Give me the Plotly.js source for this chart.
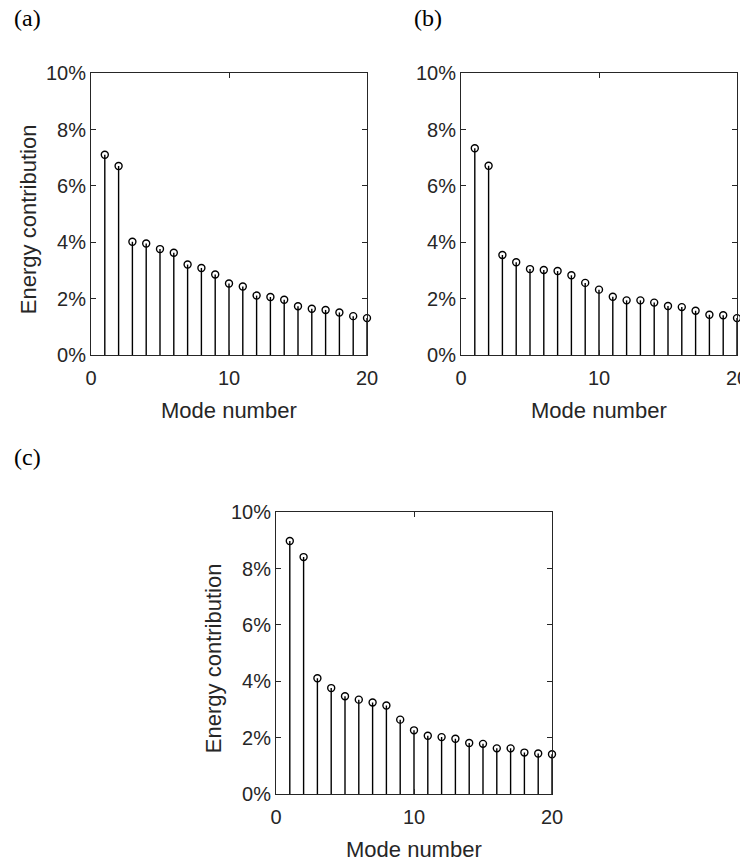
<!DOCTYPE html>
<html>
<head>
<meta charset="utf-8">
<script src="https://cdn.plot.ly/plotly-3.0.1.min.js"></script>
<style>html,body{margin:0;padding:0;background:#fff;}</style>
</head>
<body>
<div id="chart" style="width:740px;height:862px;"></div>
<script>
// Energy contribution (%) of the first 20 modes, three cases
const modeNumber = [1, 2, 3, 4, 5, 6, 7, 8, 9, 10, 11, 12, 13, 14, 15, 16, 17, 18, 19, 20];
const energyA = [7.11, 6.71, 4.02, 3.96, 3.76, 3.63, 3.21, 3.09, 2.86, 2.54, 2.43, 2.11, 2.06, 1.96, 1.73, 1.64, 1.60, 1.51, 1.38, 1.31];
const energyB = [7.34, 6.72, 3.55, 3.29, 3.05, 3.02, 2.98, 2.83, 2.56, 2.32, 2.07, 1.94, 1.94, 1.86, 1.74, 1.70, 1.57, 1.43, 1.41, 1.31];
const energyC = [8.98, 8.41, 4.11, 3.76, 3.47, 3.35, 3.25, 3.14, 2.64, 2.26, 2.07, 2.02, 1.96, 1.81, 1.78, 1.62, 1.62, 1.47, 1.44, 1.41];

const xTickValues = [0, 10, 20];
const xTickLabels = ['0', '10', '20'];
const yTickValues = [0, 2, 4, 6, 8, 10];
const yTickLabels = ['0%', '2%', '4%', '6%', '8%', '10%'];

const panelLabels = ['(a)', '(b)', '(c)'];
const xTitle = 'Mode number';
const yTitle = 'Energy contribution';

const W = 740, H = 862;
const AX = '#262626';
const SANS = '"Liberation Sans", Arial, Helvetica, sans-serif';
const SERIF = '"Liberation Serif", "Times New Roman", serif';

// pixel -> paper helpers (no margins, paper == page)
const px = v => v / W;
const py = v => 1 - v / H;

// plot boxes in pixels: [left, right, top, bottom]
const boxes = [
  [91, 367, 73.3, 355],
  [461, 737, 73.3, 355],
  [276, 552, 512.3, 794]
];

// vertical stem segments from zero up to each value
function stems(values) {
  const xs = [], ys = [];
  modeNumber.forEach((m, i) => {
    xs.push(m, m, null);
    ys.push(0, values[i], null);
  });
  return { xs, ys };
}

const series = [energyA, energyB, energyC];
const traces = [];
const layout = {
  width: W, height: H,
  margin: { l: 0, r: 0, t: 0, b: 0 },
  paper_bgcolor: '#fff',
  plot_bgcolor: '#fff',
  showlegend: false,
  annotations: []
};

series.forEach((vals, k) => {
  const n = k === 0 ? '' : String(k + 1);
  const s = stems(vals);
  traces.push({
    type: 'scatter', mode: 'lines', x: s.xs, y: s.ys,
    xaxis: 'x' + n, yaxis: 'y' + n,
    line: { color: '#000', width: 1.4 },
    cliponaxis: false, hoverinfo: 'skip'
  });
  traces.push({
    type: 'scatter', mode: 'markers', x: modeNumber, y: vals,
    xaxis: 'x' + n, yaxis: 'y' + n,
    marker: { symbol: 'circle-open', size: 7, color: '#000', line: { width: 1.4, color: '#000' } },
    cliponaxis: false
  });

  const [l, r, t, b] = boxes[k];
  layout['xaxis' + n] = {
    domain: [px(l), px(r)], anchor: 'y' + n, range: [0, 20],
    tickmode: 'array', tickvals: xTickValues, ticktext: xTickLabels,
    ticks: 'inside', ticklen: 5, tickwidth: 1, tickcolor: AX,
    showline: true, linecolor: AX, linewidth: 1, mirror: 'ticks',
    showgrid: false, zeroline: false, ticklabeloverflow: 'allow',
    ticklabelstandoff: 5,
    tickfont: { family: SANS, size: 20, color: AX }
  };
  layout['yaxis' + n] = {
    domain: [py(b), py(t)], anchor: 'x' + n, range: [0, 10],
    tickmode: 'array', tickvals: yTickValues, ticktext: yTickLabels,
    ticks: 'inside', ticklen: 5, tickwidth: 1, tickcolor: AX,
    showline: true, linecolor: AX, linewidth: 1, mirror: 'ticks',
    showgrid: false, zeroline: false, ticklabeloverflow: 'allow',
    tickfont: { family: SANS, size: 20, color: AX }
  };

  // x-axis title
  layout.annotations.push({
    xref: 'paper', yref: 'paper', x: px((l + r) / 2), y: py(b + 55),
    xanchor: 'center', yanchor: 'middle', showarrow: false,
    text: xTitle, font: { family: SANS, size: 22, color: AX }
  });
  // y-axis title (panels a and c)
  if (k !== 1) {
    layout.annotations.push({
      xref: 'paper', yref: 'paper', x: px(l - 63), y: py((t + b) / 2 + 5),
      xanchor: 'center', yanchor: 'middle', showarrow: false, textangle: -90,
      text: yTitle, font: { family: SANS, size: 22, color: AX }
    });
  }
});

// panel letters
const letterPos = [[12, 17.5], [412, 17.5], [12, 457]];
panelLabels.forEach((txt, i) => {
  layout.annotations.push({
    xref: 'paper', yref: 'paper', x: px(letterPos[i][0]), y: py(letterPos[i][1]),
    xanchor: 'left', yanchor: 'middle', showarrow: false,
    text: txt, font: { family: SERIF, size: 24, color: '#000' }
  });
});

Plotly.newPlot('chart', traces, layout, { staticPlot: true, displayModeBar: false });
</script>
</body>
</html>
